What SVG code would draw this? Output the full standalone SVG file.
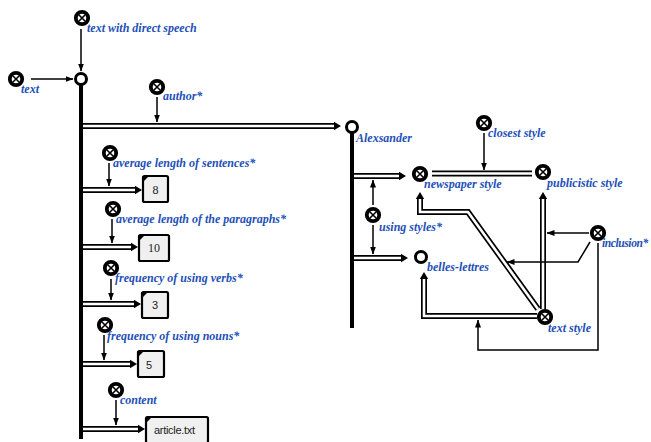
<svg xmlns="http://www.w3.org/2000/svg" xmlns:xlink="http://www.w3.org/1999/xlink" width="651" height="442" viewBox="0 0 651 442">
  <style>
    .lbl { font-family: "Liberation Serif", "Times New Roman", serif; font-size: 12px; font-weight: bold; font-style: italic; fill: #2350b8; }
    .val { font-family: "Liberation Serif", "Times New Roman", serif; font-size: 12px; fill: #222; }
    .vals { font-family: "Liberation Sans", Arial, sans-serif; font-size: 11px; fill: #222; }
    .dbl { fill: none; stroke: #000; stroke-width: 6; stroke-linejoin: miter; }
    .dbli { fill: none; stroke: #fff; stroke-width: 2.6; stroke-linejoin: miter; }
    .arr { fill: none; stroke: #000; stroke-width: 1.5; }
    .bus { stroke: #000; stroke-width: 4; }
    .box { fill: #f0f0f0; stroke: #000; stroke-width: 2.2; }
    .open { fill: #fff; stroke: #000; stroke-width: 3; }
  </style>
  <defs>
    <!-- filled head for the plain one-line arrows -->
    <marker id="ah" viewBox="0 0 8 6" markerWidth="8" markerHeight="6" refX="7.5" refY="3" orient="auto" markerUnits="userSpaceOnUse">
      <path d="M0,0 L8,3 L0,6 z" fill="#000"/>
    </marker>
    <!-- head that closes off a double-line connector -->
    <marker id="dh" viewBox="0 -5 8 10" markerWidth="8" markerHeight="10" refX="0" refY="0" orient="auto" markerUnits="userSpaceOnUse">
      <path d="M0,-4.2 L7,0 L0,4.2 z" fill="#000"/>
    </marker>
    <!-- crossed-circle entity symbol -->
    <g id="xn">
      <circle r="6.2" fill="#fff" stroke="#000" stroke-width="3.8"/>
      <path d="M-3,-3 L3,3 M3,-3 L-3,3" stroke="#000" stroke-width="1.6"/>
    </g>
  </defs>

  <!-- connectors -->
  <g id="connectors">
    <!-- double-line relations -->
    <path class="dbl" d="M81,126 H334" marker-end="url(#dh)"/>
    <path class="dbli" d="M81,126 H334"/>
    <path class="dbl" d="M81,190 H135" marker-end="url(#dh)"/>
    <path class="dbli" d="M81,190 H135"/>
    <path class="dbl" d="M81,247 H131" marker-end="url(#dh)"/>
    <path class="dbli" d="M81,247 H131"/>
    <path class="dbl" d="M81,304 H134" marker-end="url(#dh)"/>
    <path class="dbli" d="M81,304 H134"/>
    <path class="dbl" d="M81,364 H130" marker-end="url(#dh)"/>
    <path class="dbli" d="M81,364 H130"/>
    <path class="dbl" d="M81,429 H138" marker-end="url(#dh)"/>
    <path class="dbli" d="M81,429 H138"/>

    <path class="dbl" d="M352,176 H399" marker-end="url(#dh)"/>
    <path class="dbli" d="M352,176 H399"/>
    <path class="dbl" d="M352,258 H401" marker-end="url(#dh)"/>
    <path class="dbli" d="M352,258 H401"/>

    <path class="dbl" d="M432,173.5 H532"/>
    <path class="dbli" d="M432,173.5 H532"/>

    <path class="dbl" d="M543,309 V199" marker-end="url(#dh)"/>
    <path class="dbli" d="M543,309 V199"/>
    <path class="dbl" d="M538,309 L468,212 H420 V199" marker-end="url(#dh)"/>
    <path class="dbli" d="M538,309 L468,212 H420 V199"/>
    <path class="dbl" d="M537,316 H424 V279" marker-end="url(#dh)"/>
    <path class="dbli" d="M537,316 H424 V279"/>

    <!-- single-line arrows -->
    <path class="arr" d="M31,79 H73" marker-end="url(#ah)"/>
    <path class="arr" d="M81,29 V71" marker-end="url(#ah)"/>
    <path class="arr" d="M157,97 V122" marker-end="url(#ah)"/>
    <path class="arr" d="M109,163 V186" marker-end="url(#ah)"/>
    <path class="arr" d="M112,219 V243" marker-end="url(#ah)"/>
    <path class="arr" d="M111,279 V300" marker-end="url(#ah)"/>
    <path class="arr" d="M104,335 V360" marker-end="url(#ah)"/>
    <path class="arr" d="M116,400 V425" marker-end="url(#ah)"/>
    <path class="arr" d="M373,205 V180" marker-end="url(#ah)"/>
    <path class="arr" d="M373,225 V254" marker-end="url(#ah)"/>
    <path class="arr" d="M484,133 V170" marker-end="url(#ah)"/>
    <path class="arr" d="M589,233 H547" marker-end="url(#ah)"/>
    <path class="arr" d="M590,242 L578,262 H507" marker-end="url(#ah)"/>
    <path class="arr" d="M598,243 V350 H478 V320" marker-end="url(#ah)"/>
  </g>

  <!-- main text object with its attribute bus -->
  <g id="node-text-main">
    <line class="bus" x1="81" y1="85" x2="81" y2="439"/>
    <circle class="open" cx="81" cy="79" r="5.5"/>
  </g>
  <g id="node-direct-speech">
    <use xlink:href="#xn" x="82" y="18"/>
    <text class="lbl" x="87" y="32">text with direct speech</text>
  </g>
  <g id="node-text">
    <use xlink:href="#xn" x="16" y="79"/>
    <text class="lbl" x="21" y="93">text</text>
  </g>
  <g id="node-author">
    <use xlink:href="#xn" x="157" y="87"/>
    <text class="lbl" x="163" y="100">author*</text>
  </g>

  <g id="node-sentences">
    <use xlink:href="#xn" x="110" y="153"/>
    <text class="lbl" x="113" y="167">average length of sentences*</text>
  </g>
  <g id="value-8">
    <rect class="box" x="143" y="176" width="25" height="26" rx="1.5"/>
    <path d="M143,176 h6 l-6,6 z" fill="#000"/>
    <text class="val" x="155.5" y="193.5" text-anchor="middle">8</text>
  </g>

  <g id="node-paragraphs">
    <use xlink:href="#xn" x="113" y="209"/>
    <text class="lbl" x="116" y="223">average length of the paragraphs*</text>
  </g>
  <g id="value-10">
    <rect class="box" x="139" y="235" width="30" height="26" rx="1.5"/>
    <path d="M139,235 h6 l-6,6 z" fill="#000"/>
    <text class="val" x="154" y="252" text-anchor="middle">10</text>
  </g>

  <g id="node-verbs">
    <use xlink:href="#xn" x="111" y="268"/>
    <text class="lbl" x="115" y="282">frequency of using verbs*</text>
  </g>
  <g id="value-3">
    <rect class="box" x="142" y="292" width="26" height="26" rx="1.5"/>
    <path d="M142,292 h6 l-6,6 z" fill="#000"/>
    <text class="vals" x="155" y="309" text-anchor="middle">3</text>
  </g>

  <g id="node-nouns">
    <use xlink:href="#xn" x="105" y="325"/>
    <text class="lbl" x="107" y="340">frequency of using nouns*</text>
  </g>
  <g id="value-5">
    <rect class="box" x="138" y="351" width="26" height="26" rx="1.5"/>
    <path d="M138,351 h6 l-6,6 z" fill="#000"/>
    <text class="vals" x="149" y="369" text-anchor="middle">5</text>
  </g>

  <g id="node-content">
    <use xlink:href="#xn" x="116" y="390"/>
    <text class="lbl" x="120" y="404">content</text>
  </g>
  <g id="value-article">
    <rect class="box" x="146" y="417" width="62" height="26" rx="1.5"/>
    <path d="M146,417 h6 l-6,6 z" fill="#000"/>
    <text class="vals" x="154" y="434" letter-spacing="-0.3">article.txt</text>
  </g>

  <!-- author value and its style relations -->
  <g id="node-alexsander">
    <line class="bus" x1="352" y1="133" x2="352" y2="328"/>
    <circle class="open" cx="352" cy="127" r="5.5"/>
    <text class="lbl" x="356" y="142">Alexsander</text>
  </g>
  <g id="node-using-styles">
    <use xlink:href="#xn" x="373" y="215"/>
    <text class="lbl" x="379" y="231">using styles*</text>
  </g>
  <g id="node-newspaper">
    <use xlink:href="#xn" x="420" y="174"/>
    <text class="lbl" x="424" y="188">newspaper style</text>
  </g>
  <g id="node-belles-lettres">
    <circle class="open" cx="421" cy="257" r="5.5"/>
    <text class="lbl" x="427" y="271">belles-lettres</text>
  </g>
  <g id="node-closest">
    <use xlink:href="#xn" x="484" y="123"/>
    <text class="lbl" x="488" y="137">closest style</text>
  </g>
  <g id="node-publicistic">
    <use xlink:href="#xn" x="543" y="172"/>
    <text class="lbl" x="547" y="187">publicistic style</text>
  </g>
  <g id="node-text-style">
    <use xlink:href="#xn" x="545" y="317"/>
    <text class="lbl" x="548" y="332">text style</text>
  </g>
  <g id="node-inclusion">
    <use xlink:href="#xn" x="598" y="233"/>
    <text class="lbl" x="602" y="247" style="font-size:11.5px" letter-spacing="-0.4">inclusion*</text>
  </g>
</svg>
